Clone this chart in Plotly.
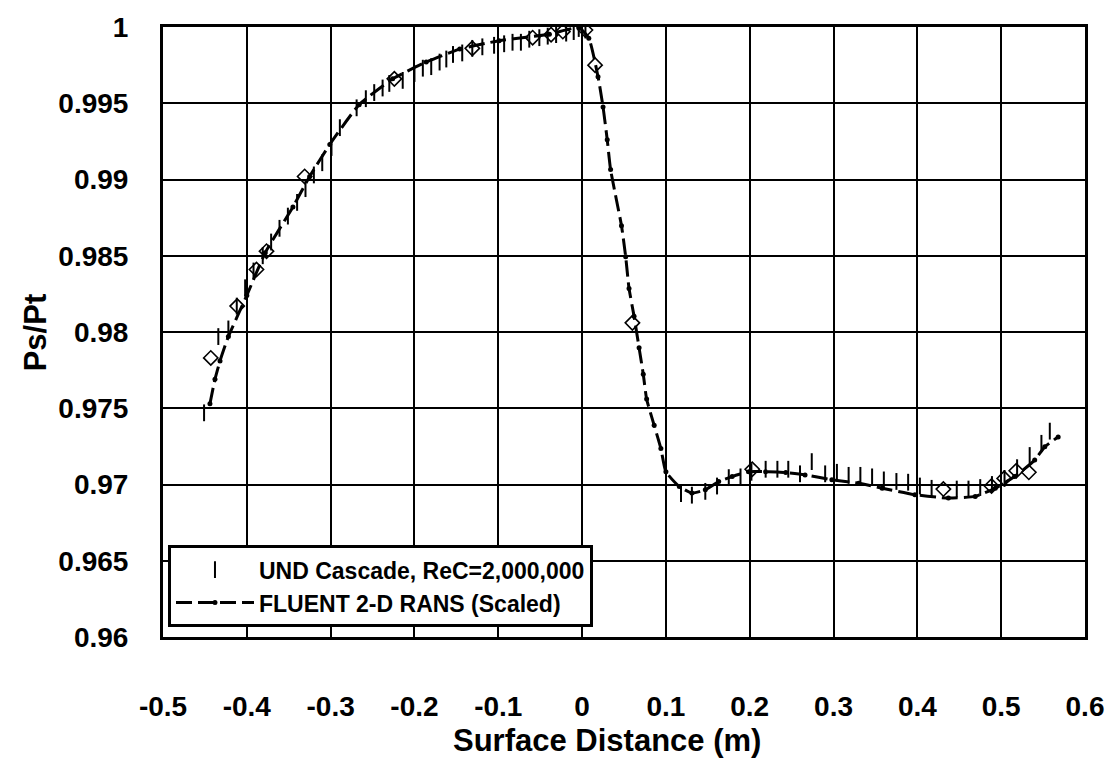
import plotly.graph_objects as go

# ---------------- data ----------------
und_x = [-0.451, -0.434, -0.422, -0.412, -0.402, -0.392, -0.381, -0.371, -0.361, -0.351,
         -0.340, -0.330, -0.320, -0.310, -0.299, -0.289, -0.269, -0.258, -0.248, -0.238,
         -0.230, -0.214, -0.200, -0.190, -0.180, -0.170, -0.162, -0.154, -0.143, -0.131,
         -0.119, -0.105, -0.093, -0.083, -0.073, -0.063, -0.051, -0.041, -0.031, -0.019,
         -0.010, -0.004, 0.000, 0.004, 0.118, 0.131, 0.147, 0.161, 0.175, 0.189,
         0.202, 0.219, 0.233, 0.246, 0.260, 0.274, 0.290, 0.304, 0.318, 0.332,
         0.346, 0.360, 0.375, 0.389, 0.403, 0.417, 0.447, 0.461, 0.475, 0.489,
         0.504, 0.519, 0.534, 0.548, 0.558]
und_y = [0.9747, 0.9797, 0.9802, 0.9817, 0.9829, 0.9840, 0.9850, 0.9859, 0.9868, 0.9876,
         0.9885, 0.9894, 0.9903, 0.9911, 0.9921, 0.9934, 0.9947, 0.9953, 0.9957, 0.9960,
         0.9963, 0.9965, 0.99695, 0.9973, 0.9974, 0.9977, 0.9979, 0.9982, 0.9983, 0.9986,
         0.9987, 0.9988, 0.9989, 0.9990, 0.9990, 0.9992, 0.9993, 0.9994, 0.9995, 0.9996,
         0.9997, 0.9999, 0.9999, 0.9998, 0.9694, 0.9693, 0.96955, 0.9699, 0.97045, 0.9705,
         0.9708, 0.9710, 0.9710, 0.9710, 0.9707, 0.9715, 0.9707, 0.9708, 0.9706, 0.9706,
         0.9705, 0.9703, 0.9702, 0.97015, 0.9699, 0.96975, 0.9697, 0.9697, 0.9698, 0.9700,
         0.9704, 0.9711, 0.9719, 0.9727, 0.9735]

fluent_x = [-0.444, -0.438, -0.432, -0.422, -0.400, -0.378, -0.345, -0.325, -0.301, -0.266,
            -0.226, -0.186, -0.146, -0.099, -0.039, -0.004, 0.008, 0.019, 0.025, 0.030,
            0.034, 0.047, 0.052, 0.056, 0.062, 0.068, 0.073, 0.077, 0.086, 0.094,
            0.100, 0.116, 0.131, 0.147, 0.163, 0.179, 0.199, 0.219, 0.243, 0.266,
            0.298, 0.330, 0.358, 0.397, 0.437, 0.469, 0.493, 0.516, 0.540, 0.552, 0.568]
fluent_y = [0.9753, 0.9769, 0.9781, 0.9797, 0.9824, 0.9852, 0.9882, 0.9902, 0.9923, 0.9949,
            0.9966, 0.9977, 0.99855, 0.9991, 0.99953, 0.99995, 0.99927, 0.99674, 0.99476, 0.9926,
            0.99065, 0.98697, 0.98494, 0.98286, 0.98104, 0.97896, 0.97723, 0.9756, 0.97388, 0.97236,
            0.97084, 0.96987, 0.96944, 0.96966, 0.97019, 0.97052, 0.97084, 0.97084, 0.97078, 0.97063,
            0.97031, 0.97008, 0.96976, 0.96933, 0.96911, 0.96922, 0.96976, 0.97052, 0.9716, 0.97247, 0.97312]

diamond_x = [-0.443, -0.4115, -0.3885, -0.3765, -0.331, -0.224, -0.131, -0.059, -0.037, -0.023,
             0.004, 0.0155, 0.060, 0.203, 0.431, 0.4885, 0.5036, 0.518, 0.533]
diamond_y = [0.9783, 0.9817, 0.9841, 0.9853, 0.9902, 0.9966, 0.9986, 0.9993, 0.9995, 0.9997,
             0.9998, 0.9975, 0.9806, 0.9710, 0.9697, 0.9699, 0.9704, 0.9709, 0.9708]

x_ticks = [-0.5, -0.4, -0.3, -0.2, -0.1, 0, 0.1, 0.2, 0.3, 0.4, 0.5, 0.6]
x_tick_labels = ["-0.5", "-0.4", "-0.3", "-0.2", "-0.1", "0", "0.1", "0.2", "0.3", "0.4", "0.5", "0.6"]
y_ticks = [0.96, 0.965, 0.97, 0.975, 0.98, 0.985, 0.99, 0.995, 1.0]
y_tick_labels = ["0.96", "0.965", "0.97", "0.975", "0.98", "0.985", "0.99", "0.995", "1"]

FONT = "Liberation Sans, Arial, sans-serif"

fig = go.Figure()

fig.add_trace(go.Scatter(
    x=diamond_x, y=diamond_y, mode="markers", showlegend=False,
    marker=dict(symbol="diamond-open", size=11, color="black", line=dict(width=1.6, color="black")),
))
fig.add_trace(go.Scatter(
    x=fluent_x, y=fluent_y, mode="lines+markers", name="FLUENT 2-D RANS (Scaled)",
    legendgroup="b", legendrank=2,
    line=dict(color="black", width=3, dash="16px,6px", shape="spline", smoothing=0.5),
    marker=dict(symbol="circle", size=5, color="black"),
))
fig.add_trace(go.Scatter(
    x=und_x, y=und_y, mode="markers", name="UND Cascade, ReC=2,000,000",
    legendgroup="a", legendrank=1,
    marker=dict(symbol="line-ns", size=12, color="black", line=dict(width=2, color="black")),
))

axis_common = dict(
    showgrid=True, gridcolor="black", gridwidth=1.6,
    showline=True, linecolor="black", linewidth=3, mirror=True,
    zeroline=False, ticks="",
    tickfont=dict(family=FONT, size=28, color="black", weight="bold"),
)

fig.update_xaxes(range=[-0.5, 0.6], tickvals=x_ticks, ticktext=x_tick_labels,
                 ticklabelstandoff=42, **axis_common)
fig.update_yaxes(range=[0.96, 1.0], tickvals=y_ticks, ticktext=y_tick_labels,
                 ticklabelstandoff=26, **axis_common)

fig.update_layout(
    width=1116, height=759,
    margin=dict(l=163, r=29, t=21, b=122),
    paper_bgcolor="white", plot_bgcolor="white",
    font=dict(family=FONT, color="black"),
    legend=dict(
        x=0.0054, y=0.016, xanchor="left", yanchor="bottom",
        bgcolor="white", bordercolor="black", borderwidth=3,
        font=dict(family=FONT, size=23, color="black", weight="bold"),
        itemwidth=78, tracegroupgap=20, traceorder="normal",
    ),
    annotations=[
        dict(text="Surface Distance (m)", xref="paper", yref="paper", x=0.4816, y=-0.169,
             xanchor="center", yanchor="middle", showarrow=False,
             font=dict(family=FONT, size=31, color="black", weight="bold")),
        dict(text="Ps/Pt", xref="paper", yref="paper", x=-0.1385, y=0.5,
             xanchor="center", yanchor="middle", textangle=-90, showarrow=False,
             font=dict(family=FONT, size=31, color="black", weight="bold")),
    ],
)

fig.write_html("out.html", config={"displayModeBar": False},
               post_script="document.body.style.margin='0';document.body.style.overflow='hidden';")
